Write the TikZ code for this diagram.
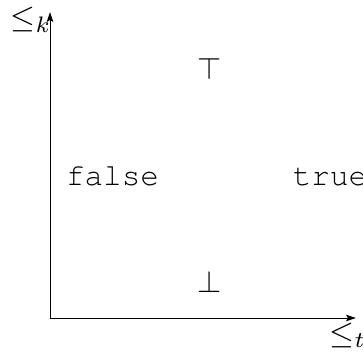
\documentclass[tikz,border=0pt]{standalone}
\usepackage[T1,TU]{fontenc}
\usepackage{graphicx}
\usetikzlibrary{arrows.meta}
\newcommand\courfnt{\fontencoding{T1}\fontfamily{pcr}\fontseries{m}\fontshape{n}\selectfont}
\begin{document}
\begin{tikzpicture}[x=1pt,y=1pt,
  axis/.style={line width=1pt,-{Stealth[length=10pt,width=6.5pt,inset=2pt]}},
  lbl/.style={inner sep=0pt},
  word/.style={inner sep=0pt,font=\fontsize{31}{36}\courfnt}]
\useasboundingbox (0,0) rectangle (363,356);
\coordinate (O) at (50,38);
\coordinate (ytip) at (50,344);
\coordinate (xtip) at (356,38);
\draw[axis] (O) -- (ytip);
\draw[axis] (O) -- (xtip);
\node[lbl,anchor=base west] (lk) at (10.5,328) {\scalebox{3.2}{$\leq_k$}};
\node[lbl,anchor=base west] (lt) at (329.5,13) {\scalebox{3.2}{$\leq_t$}};
\node[lbl] (top) at (210,287) {\scalebox{3.1}{$\top$}};
\node[lbl] (bot) at (210,74.5) {\scalebox{3.1}{$\bot$}};
\node[word,anchor=base] (f) at (112.5,170) {false};
\node[word,anchor=base] (t) at (330,170) {true};
\end{tikzpicture}
\end{document}
